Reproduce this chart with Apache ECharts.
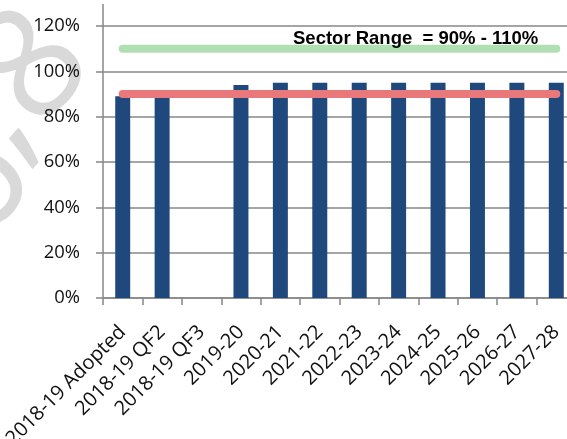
<!DOCTYPE html>
<html><head><meta charset="utf-8">
<script src="https://cdn.jsdelivr.net/npm/echarts@6/dist/echarts.min.js"></script>
<style>html,body{margin:0;padding:0;background:#fff;overflow:hidden}#c{width:567px;height:439px}</style>
</head><body><div id="c"></div>
<script>
const categories = ['2018-19 Adopted','2018-19 QF2','2018-19 QF3','2019-20','2020-21','2021-22','2022-23','2023-24','2024-25','2025-26','2026-27','2027-28'];
const ratioValues = [89, 88.8, null, 94, 95, 95, 95, 95, 95, 95, 95, 95];
const sectorLow = [90, 90, 90, 90, 90, 90, 90, 90, 90, 90, 90, 90];
const sectorHigh = [110, 110, 110, 110, 110, 110, 110, 110, 110, 110, 110, 110];
const annotationText = 'Sector Range  = 90% - 110%';

const chart = echarts.init(document.getElementById('c'), null, {renderer: 'canvas'});
const gridColor = '#878787';
const theta = 49 * Math.PI / 180;
const wmFont = '155px "Open Sans"';
const wmColor = '#D9D9D9';
const option = {
  animation: false,
  backgroundColor: '#fff',
  grid: {left: 103, top: 26, width: 473, bottom: 141, containLabel: false, outerBoundsMode: 'none'},
  xAxis: {
    type: 'category', data: categories, boundaryGap: true,
    axisLine: {lineStyle: {color: gridColor, width: 1.5}},
    axisTick: {show: true, length: 7, lineStyle: {color: gridColor, width: 1.5}},
    axisLabel: {rotate: 45, interval: 0, margin: 31, color: '#111', fontFamily: 'Open Sans', fontSize: 20}
  },
  yAxis: {
    type: 'value', min: 0, max: 120, interval: 20,
    axisLine: {show: true, lineStyle: {color: gridColor, width: 1.5}},
    axisTick: {show: true, length: 7, lineStyle: {color: gridColor, width: 1.5}},
    splitLine: {show: true, lineStyle: {color: gridColor, width: 1.5}},
    axisLabel: {formatter: '{value}%', color: '#111', fontFamily: 'Open Sans', fontSize: 18.4, margin: 23}
  },
  series: [
    {type: 'bar', data: ratioValues, barWidth: '38%', itemStyle: {color: '#1F497D'}, z: 2},
    {type: 'line', data: sectorLow, symbol: 'none', lineStyle: {color: '#E8787A', width: 8, cap: 'round'}, z: 3},
    {type: 'line', data: sectorHigh, symbol: 'none', lineStyle: {color: '#B1DFB4', width: 8, cap: 'round'}, z: 3}
  ],
  graphic: [
    {type: 'text', x: 35, y: 69, rotation: theta, z: -10, style: {text: '8', font: wmFont, fill: wmColor, align: 'center', verticalAlign: 'middle'}},
    {type: 'text', x: -7, y: 117, rotation: theta, z: -10, style: {text: ',', font: wmFont, fill: wmColor, align: 'center', verticalAlign: 'middle'}},
    {type: 'text', x: -23, y: 184, rotation: theta, z: -10, style: {text: '6', font: wmFont, fill: wmColor, align: 'center', verticalAlign: 'middle'}},
    {type: 'text', x: 293, y: 39, z: 10, style: {text: annotationText, font: 'bold 18.5px "Liberation Sans"', fill: '#000', verticalAlign: 'middle'}}
  ]
};
chart.setOption(option);
const axisTopY = chart.convertToPixel({yAxisIndex: 0}, 120);
chart.setOption({graphic: option.graphic.concat([
  {type: 'line', shape: {x1: 103, y1: 4, x2: 103, y2: axisTopY}, style: {stroke: gridColor, lineWidth: 1.5}}
])});
</script></body></html>
